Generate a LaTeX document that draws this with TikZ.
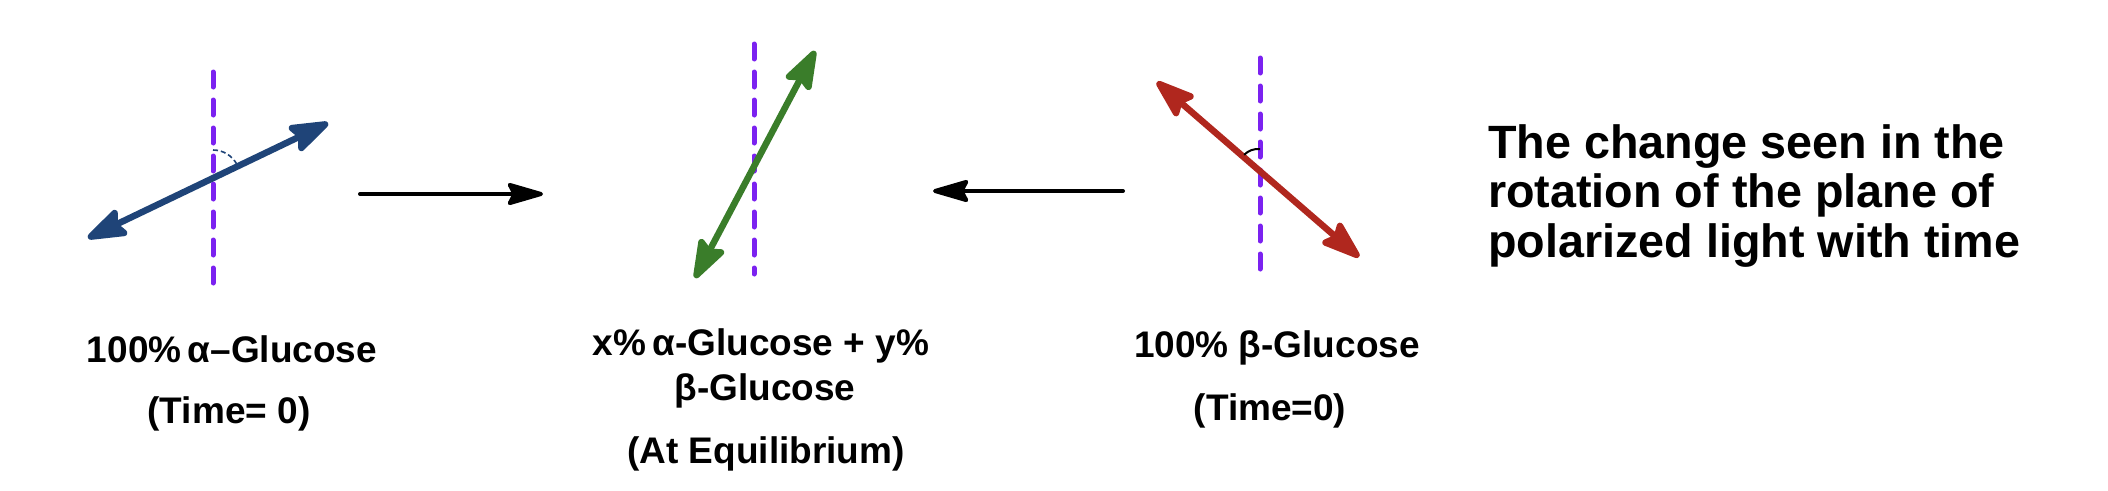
\documentclass[tikz,border=0pt]{standalone}
\usepackage{fontspec}
\setmainfont{Liberation Sans}
\usetikzlibrary{arrows.meta}
\definecolor{pviolet}{RGB}{123,34,240}
\definecolor{ablue}{RGB}{31,68,120}
\definecolor{agreen}{RGB}{58,125,42}
\definecolor{ared}{RGB}{176,39,30}
\tikzset{
  phead/.tip={Stealth[length=47pt,width=32pt,inset=7pt,round]},
  pdash/.style={pviolet,line width=5pt,line cap=round,dash pattern=on 15pt off 13pt},
  polar/.style={line width=6.5pt,phead-phead},
  react/.style={black,line width=4pt,line cap=round,-{Stealth[length=42pt,width=24pt,inset=6pt,round]}},
  lbl/.style={inner sep=0pt,anchor=base,font=\bfseries\fontsize{37}{44}\selectfont},
  note/.style={inner sep=0pt,anchor=west,align=left,font=\bfseries\fontsize{46.7}{49.5}\selectfont}
}
\begin{document}
\begin{tikzpicture}[x=1pt,y=-1pt]
\useasboundingbox (0,0) rectangle (2108,490);
% ---- alpha (left)
\coordinate (v1t) at (213,72);
\coordinate (v1b) at (213,290);
\coordinate (c1) at (213,177);
\coordinate (b1) at (88,238);
\coordinate (b2) at (328,123);
\draw[pdash] (v1t) -- (v1b);
\draw[polar,ablue] (b1) -- (b2);
\draw[ablue,line width=1.6pt,dash pattern=on 5pt off 3pt] ([shift={(90:-27)}]c1) arc[start angle=-90,end angle=-26,radius=27];
% ---- equilibrium (middle)
\coordinate (v2t) at (754,44);
\coordinate (v2b) at (754,274);
\coordinate (g1) at (695,278);
\coordinate (g2) at (815,51);
\draw[pdash] (v2t) -- (v2b);
\draw[polar,agreen] (g1) -- (g2);
% ---- beta (right)
\coordinate (v3t) at (1260,58);
\coordinate (v3b) at (1260,277);
\coordinate (c3) at (1260,170);
\coordinate (r1) at (1157,82);
\coordinate (r2) at (1359,257);
\draw[pdash] (v3t) -- (v3b);
\draw[polar,ared] (r1) -- (r2);
\draw[black,line width=2pt] ([shift={(0,-21)}]c3) arc[start angle=-85,end angle=-135,radius=20];
% ---- reaction arrows
\coordinate (k1s) at (360,194);
\coordinate (k1e) at (543,194);
\coordinate (k2s) at (1123,191);
\coordinate (k2e) at (933,191);
\draw[react] (k1s) -- (k1e);
\draw[react] (k2s) -- (k2e);
% ---- labels
\node[lbl] (la1) at (232,362) {100\%\,α–Glucose};
\node[lbl] (la2) at (229,423) {(Time= 0)};
\node[lbl] (lm1) at (761,355) {x\%\,α-Glucose + y\%};
\node[lbl] (lm2) at (765,400) {β-Glucose};
\node[lbl] (lm3) at (766,463) {(At Equilibrium)};
\node[lbl] (lb1) at (1277,357) {100\% β-Glucose};
\node[lbl] (lb2) at (1270,420) {(Time=0)};
\node[note] (txt) at (1488,196) {The change seen in the\\rotation of the plane of\\polarized light with time};
\end{tikzpicture}
\end{document}
